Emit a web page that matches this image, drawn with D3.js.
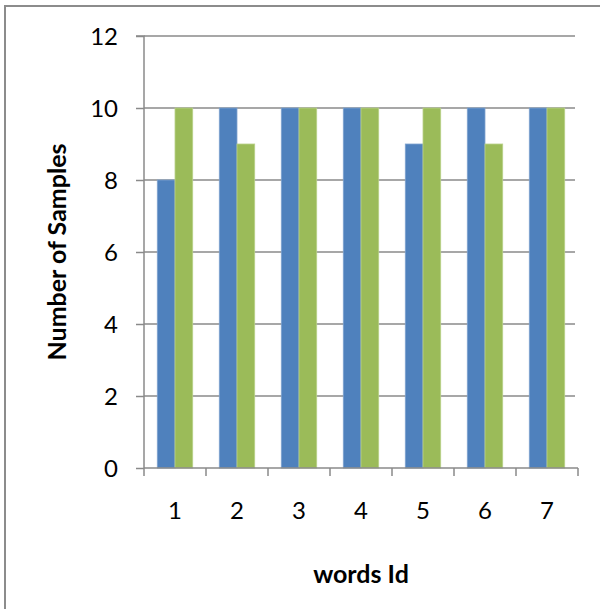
<!DOCTYPE html>
<html>
<head>
<meta charset="utf-8">
<script src="https://cdn.jsdelivr.net/npm/d3@7"></script>
<style>
  html, body { margin: 0; padding: 0; background: #fff; }
  svg { display: block; }
  text { font-family: Lato, "Open Sans", sans-serif; fill: #000; }
</style>
</head>
<body>
<svg id="chart" width="600" height="609"></svg>
<script>
// Samples per word, two series
const categories = ["1", "2", "3", "4", "5", "6", "7"];
const seriesA = [8, 10, 10, 10, 9, 10, 10];
const seriesB = [10, 9, 10, 10, 10, 9, 10];
const yTicks = [0, 2, 4, 6, 8, 10, 12];
const colors = ["#4F81BD", "#9BBB59"];

const svg = d3.select("#chart");
const plotLeft = 144, plotRight = 578, plotTop = 36, plotBottom = 468;

// outer frame
svg.append("rect")
  .attr("x", 5).attr("y", 6)
  .attr("width", 620).attr("height", 620)
  .attr("fill", "none").attr("stroke", "#8c8c8c").attr("stroke-width", 2);

const x = d3.scaleBand().domain(categories).range([plotLeft, plotRight]).paddingInner(0).paddingOuter(0);
const y = d3.scaleLinear().domain([0, 12]).range([plotBottom, plotTop]);

// horizontal gridlines
svg.append("g")
  .selectAll("line")
  .data(yTicks.filter(d => d > 0))
  .join("line")
  .attr("x1", plotLeft).attr("x2", plotRight - 3)
  .attr("y1", d => y(d)).attr("y2", d => y(d))
  .attr("stroke", "#8a8a8a").attr("stroke-width", 1.5);

// bars: Excel-style 150% gap width
const barW = x.bandwidth() / 3.5;
const groups = categories.map((c, i) => ({ c, vals: [seriesA[i], seriesB[i]] }));
const g = svg.append("g");
groups.forEach(d => {
  d.vals.forEach((v, s) => {
    g.append("rect")
      .attr("x", x(d.c) + barW * 0.75 + s * barW)
      .attr("y", y(v))
      .attr("width", barW)
      .attr("height", y(0) - y(v))
      .attr("fill", colors[s])
      .attr("stroke", s === 0 ? "#7fa3cf" : "#b9d18a")
      .attr("stroke-width", 0.8);
  });
});

// y axis
const yAxis = d3.axisLeft(y).tickValues(yTicks).tickSize(8).tickPadding(18);
const ya = svg.append("g").attr("transform", `translate(${plotLeft},0)`).call(yAxis);
ya.select(".domain").attr("stroke", "#8a8a8a").attr("stroke-width", 1.5).attr("d", `M-8,${plotTop}H0V${plotBottom}`);
ya.selectAll(".tick line").attr("stroke", "#8a8a8a").attr("stroke-width", 1.5);
ya.selectAll(".tick text").attr("font-size", 24).attr("font-family", "Lato, sans-serif").attr("fill", "#000")
  .attr("dy", "0.36em");

// x axis
const xAxis = d3.axisBottom(x).tickSize(0);
const xa = svg.append("g").attr("transform", `translate(0,${plotBottom})`).call(xAxis);
xa.select(".domain").attr("stroke", "#8a8a8a").attr("stroke-width", 1.5).attr("d", `M${plotLeft},0H${plotRight}`);
xa.selectAll(".tick text").attr("font-size", 24).attr("font-family", "Lato, sans-serif").attr("fill", "#000")
  .attr("y", 51).attr("dy", 0);
// category boundary ticks
xa.append("g").selectAll("line")
  .data(categories.map(c => x(c)).concat([plotRight]))
  .join("line")
  .attr("x1", d => d).attr("x2", d => d)
  .attr("y1", 0).attr("y2", 8)
  .attr("stroke", "#8a8a8a").attr("stroke-width", 1.5);

// axis titles
svg.append("text")
  .attr("x", (plotLeft + plotRight) / 2).attr("y", 583)
  .attr("text-anchor", "middle")
  .attr("font-size", 25).attr("font-weight", "bold")
  .text("words Id");

svg.append("text")
  .attr("transform", `translate(66,${(plotTop + plotBottom) / 2}) rotate(-90)`)
  .attr("text-anchor", "middle")
  .attr("font-size", 25).attr("font-weight", "bold")
  .text("Number of Samples");
</script>
</body>
</html>
